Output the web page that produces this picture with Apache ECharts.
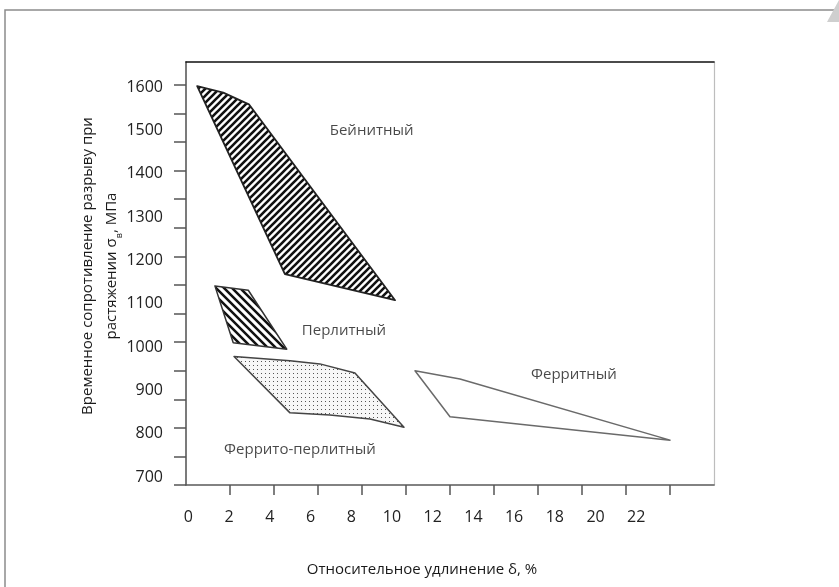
<!DOCTYPE html>
<html>
<head>
<meta charset="utf-8">
<script src="https://cdn.jsdelivr.net/npm/echarts@6/dist/echarts.min.js"></script>
<style>
html,body{margin:0;padding:0;background:#fff;}
#chart{width:839px;height:587px;}
</style>
</head>
<body>
<div id="chart"></div>
<script>
// ---- data ----
const bainite = [[0.43, 1602], [1.71, 1587], [2.97, 1560], [10.15, 1108], [4.74, 1168]];
const pearlite = [[1.30, 1141], [2.94, 1131], [4.83, 995], [2.20, 1010]];
const ferritePearlite = [[2.24, 978], [4.99, 968], [6.46, 961], [8.18, 940], [10.59, 815], [8.92, 834], [6.95, 843], [4.99, 848]];
const ferrite = [[11.13, 945], [13.34, 926], [23.66, 785], [12.85, 839]];
const regionNames = ['Бейнитный', 'Перлитный', 'Ферритный', 'Феррито-перлитный'];
const regionPos = [[9.0, 1500], [7.64, 1037], [18.94, 935], [5.48, 762]];
const xTickLabels = [0, 2, 4, 6, 8, 10, 12, 14, 16, 18, 20, 22];
const yTickLabels = [700, 800, 900, 1000, 1100, 1200, 1300, 1400, 1500, 1600];
const xTickMarks = [1, 2, 3, 4, 5, 6, 7, 8, 9, 10, 11];
const yTickMarks = [0, 1, 2, 3, 4, 5, 6, 7, 8, 9, 10, 11, 12, 13, 14];
const xTitle = 'Относительное удлинение δ, %';
const yTitle1 = 'Временное сопротивление разрыву при';
const yTitle2 = 'растяжении σ{sub|в}, МПа';

// ---- axis ranges ----
const XMIN = -0.12, XMAX = 25.82;
const YMIN = 681.5, YMAX = 1657.7;
const FONT = '"Open Sans", "Noto Sans", sans-serif';

function makePattern(size, draw) {
  const c = document.createElement('canvas');
  c.width = size; c.height = size;
  const ctx = c.getContext('2d');
  draw(ctx, size);
  return { image: c, repeat: 'repeat' };
}
const hatchSlash = makePattern(7, (ctx, s) => {
  ctx.fillStyle = '#fff'; ctx.fillRect(0, 0, s, s);
  ctx.strokeStyle = '#111'; ctx.lineWidth = 2.6;
  ctx.beginPath();
  ctx.moveTo(-1, 1); ctx.lineTo(1, -1);
  ctx.moveTo(0, s); ctx.lineTo(s, 0);
  ctx.moveTo(s - 1, s + 1); ctx.lineTo(s + 1, s - 1);
  ctx.stroke();
});
const hatchBack = makePattern(8, (ctx, s) => {
  ctx.fillStyle = '#fff'; ctx.fillRect(0, 0, s, s);
  ctx.strokeStyle = '#111'; ctx.lineWidth = 2.5;
  ctx.beginPath();
  ctx.moveTo(0, 0); ctx.lineTo(s, s);
  ctx.moveTo(-1, s - 1); ctx.lineTo(1, s + 1);
  ctx.moveTo(s - 1, -1); ctx.lineTo(s + 1, 1);
  ctx.stroke();
});
const dots = makePattern(4, (ctx, s) => {
  ctx.fillStyle = '#f7f7f7'; ctx.fillRect(0, 0, s, s);
  ctx.fillStyle = '#555'; ctx.fillRect(1, 1, 1, 1);
});

function polySeries(name, pts, fill, stroke, lw) {
  return {
    type: 'custom', name: name, xAxisIndex: 0, yAxisIndex: 0,
    data: pts, silent: true, animation: false,
    renderItem: function (params, api) {
      if (params.dataIndex !== 0) return null;
      return {
        type: 'polygon',
        shape: { points: pts.map(p => api.coord(p)) },
        style: { fill: fill, stroke: stroke, lineWidth: lw, lineJoin: 'round' }
      };
    }
  };
}

const chart = echarts.init(document.getElementById('chart'), null, { renderer: 'canvas' });
const option = {
  backgroundColor: '#fff',
  animation: false,
  grid: { left: 186, top: 62, right: 125, bottom: 102, outerBoundsMode: 'none', containLabel: false },
  xAxis: [
    {
      type: 'value', position: 'bottom', min: XMIN, max: XMAX,
      axisLine: { show: true, onZero: false, lineStyle: { color: '#5a5a5a', width: 1.6 } },
      axisTick: { show: false }, splitLine: { show: false },
      axisLabel: { customValues: xTickLabels, margin: 24, fontSize: 16, color: '#222', fontFamily: FONT,
        formatter: v => String(v) }
    },
    {
      type: 'value', position: 'bottom', min: 0, max: 12,
      axisLine: { show: false, onZero: false },
      axisTick: { show: true, customValues: xTickMarks, length: 10, inside: false, lineStyle: { color: '#555', width: 1.5 } },
      axisLabel: { show: false }, splitLine: { show: false }
    },
    {
      type: 'value', position: 'top', min: 0, max: 1,
      axisLine: { show: true, onZero: false, lineStyle: { color: '#111', width: 1.6 } },
      axisTick: { show: false }, axisLabel: { show: false }, splitLine: { show: false }
    }
  ],
  yAxis: [
    {
      type: 'value', position: 'left', min: YMIN, max: YMAX,
      axisLine: { show: true, onZero: false, lineStyle: { color: '#5a5a5a', width: 1.6 } },
      axisTick: { show: false }, splitLine: { show: false },
      axisLabel: { customValues: yTickLabels, margin: 23, fontSize: 16, color: '#222', fontFamily: FONT,
        formatter: v => String(v) }
    },
    {
      type: 'value', position: 'left', min: 0, max: 14.8,
      axisLine: { show: false, onZero: false },
      axisTick: { show: true, customValues: yTickMarks, length: 12, inside: false, lineStyle: { color: '#555', width: 1.5 } },
      axisLabel: { show: false }, splitLine: { show: false }
    },
    {
      type: 'value', position: 'right', min: 0, max: 1,
      axisLine: { show: true, onZero: false, lineStyle: { color: '#bdbdbd', width: 1.2 } },
      axisTick: { show: false }, axisLabel: { show: false }, splitLine: { show: false }
    }
  ],
  series: [
    polySeries('Бейнитный', bainite, hatchSlash, '#222', 1.8),
    polySeries('Перлитный', pearlite, hatchBack, '#333', 1.5),
    polySeries('Феррито-перлитный', ferritePearlite, dots, '#444', 1.5),
    polySeries('Ферритный', ferrite, 'rgba(255,255,255,0)', '#6a6a6a', 1.5),
    {
      type: 'scatter', xAxisIndex: 0, yAxisIndex: 0, symbolSize: 1, silent: true,
      itemStyle: { color: 'rgba(0,0,0,0)' },
      data: regionNames.map((n, i) => ({ name: n, value: regionPos[i] })),
      label: { show: true, position: 'inside', formatter: '{b}', fontSize: 15, color: '#1a1a1a', fontFamily: FONT }
    }
  ],
  graphic: [
    { type: 'rect', silent: true, shape: { x: 5, y: 10, width: 1000, height: 1000 },
      style: { fill: 'none', stroke: '#8c8c8c', lineWidth: 1.5 } },
    { type: 'polygon', silent: true, shape: { points: [[827, 22], [839, 0], [839, 22]] },
      style: { fill: '#cfcfcf' } },
    { type: 'text', silent: true, x: 422, y: 570,
      style: { text: xTitle, fontSize: 15, fill: '#1a1a1a', fontFamily: FONT, align: 'center', verticalAlign: 'middle' } },
    { type: 'text', silent: true, x: 100, y: 266, rotation: Math.PI / 2,
      style: {
        text: yTitle1 + '\n' + yTitle2, fontSize: 15, lineHeight: 24, fill: '#1a1a1a', fontFamily: FONT,
        align: 'center', verticalAlign: 'middle',
        rich: { sub: { fontSize: 9, verticalAlign: 'bottom', fontFamily: FONT, fill: '#1a1a1a', padding: [6, 0, 0, 0] } }
      } }
  ]
};
chart.setOption(option);
</script>
</body>
</html>
